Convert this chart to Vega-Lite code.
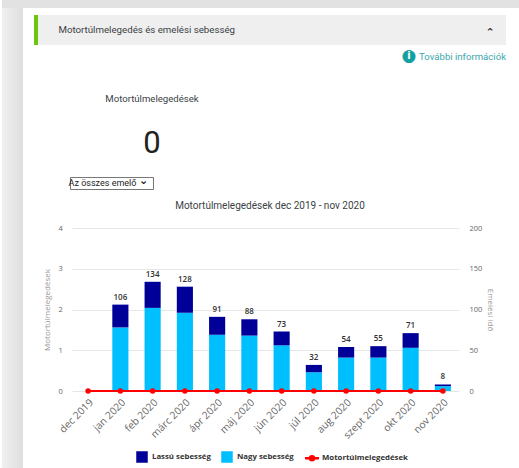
{
"$schema":"https://vega.github.io/schema/vega-lite/v6.json",
"padding":{"left":2,"top":0,"right":0,"bottom":0},
"background":"white",
"bounds":"flat",
"spacing":0,
"config":{"view":{"stroke":null},"concat":{"spacing":0},"font":"Open Sans","style":{"text":{"font":"Open Sans"}}},
"vconcat":[
{"width":517,"height":8,"view":{"fill":"#e2e2e2"},"data":{"values":[]},"mark":"text"},
{"bounds":"flat","spacing":0,"hconcat":[
 {"width":21,"height":460,"view":{"fill":{"gradient":"linear","x1":0,"x2":1,"y1":0,"y2":0,"stops":[{"offset":0,"color":"#f0f0f0"},{"offset":1,"color":"#dedede"}]}},"data":{"values":[]},"mark":"text"},
 {"bounds":"flat","spacing":0,"vconcat":[
  {"width":496,"height":7,"data":{"values":[]},"mark":"text"},
  {"bounds":"flat","spacing":0,"hconcat":[
   {"width":11,"height":30,"data":{"values":[]},"mark":"text"},
   {"width":4,"height":30,"view":{"fill":"#6cc70a"},"data":{"values":[]},"mark":"text"},
   {"width":468,"height":30,"view":{"fill":"#efefef"},"data":{"values":[{"label":"Motortúlmelegedés és emelési sebesség","chev":"⌃"}]},
    "layer":[
     {"mark":{"type":"text","align":"left","dx":-213.5,"fontSize":9.7,"fill":"#3a3f45","font":"Roboto"},"encoding":{"text":{"field":"label"}}},
     {"mark":{"type":"text","dx":218,"dy":3,"fontSize":11,"fontWeight":"bold","fill":"#333","font":"DejaVu Sans"},"encoding":{"text":{"field":"chev"}}}
    ]}
  ]},
  {"width":496,"height":129,"data":{"values":[{"info":"További információk","kpiTitle":"Motortúlmelegedések","kpi":0,"dot":"●","i":"i"}]},
   "layer":[
    {"mark":{"type":"text","align":"right","dx":235,"dy":-53,"fontSize":9.6,"fill":"#3ba7ad","font":"Roboto"},"encoding":{"text":{"field":"info"}}},
    {"mark":{"type":"text","dx":138,"dy":-54,"fontSize":17,"fill":"#12a0a0","font":"DejaVu Sans"},"encoding":{"text":{"field":"dot"}}},
    {"mark":{"type":"text","dx":138,"dy":-54,"fontSize":10,"fontWeight":"bold","fill":"white","font":"DejaVu Sans"},"encoding":{"text":{"field":"i"}}},
    {"mark":{"type":"text","dx":-119,"dy":-10.5,"fontSize":9.6,"fill":"#3a3f45","font":"Roboto"},"encoding":{"text":{"field":"kpiTitle"}}},
    {"mark":{"type":"text","dx":-119,"dy":34,"fontSize":31,"fill":"#222","font":"Roboto"},"encoding":{"text":{"field":"kpi"}}}
   ]},
  {"bounds":"flat","spacing":0,"hconcat":[
   {"width":45,"height":12,"data":{"values":[]},"mark":"text"},
   {"width":83,"height":12,"view":{"stroke":"#777","fill":"white"},"data":{"values":[{"sel":"Az összes emelő","chev":"⌄"}]},
    "layer":[
     {"mark":{"type":"text","dx":-9,"fontSize":9,"fill":"#222","font":"Roboto"},"encoding":{"text":{"field":"sel"}}},
     {"mark":{"type":"text","dx":32,"dy":-2,"fontSize":11,"fontWeight":"bold","fill":"#222","font":"DejaVu Sans"},"encoding":{"text":{"field":"chev"}}}
    ]}
  ]},
  {"width":496,"height":11,"data":{"values":[]},"mark":"text"},
  {"bounds":"flat","spacing":0,"hconcat":[
   {"width":20,"height":163,"data":{"values":[]},"mark":"text"},
   {"width":387,"height":163,
    "title":{"text":"Motortúlmelegedések dec 2019 - nov 2020","fontSize":10,"fontWeight":"normal","color":"#3a3f45","font":"Roboto","dx":4.5,"offset":13},
    "resolve":{"scale":{"y":"independent"},"axis":{"y":"independent"}},
    "encoding":{"x":{"field":"month","type":"nominal","title":null,
      "scale":{"domain":["dec 2019","jan 2020","feb 2020","márc 2020","ápr 2020","máj 2020","jún 2020","júl 2020","aug 2020","szept 2020","okt 2020","nov 2020"],"paddingInner":0.5,"paddingOuter":0.25},
      "axis":{"labelAngle":-45,"labelAlign":"right","labelBaseline":"top","labelFontSize":10.2,"labelColor":"#666","ticks":false,"domain":false,"labelPadding":6,"grid":false}}},
    "layer":[
     {"data":{"values":[
      {"month":"dec 2019","speed":"Nagy sebesség","hours":0},{"month":"dec 2019","speed":"Lassú sebesség","hours":0},
      {"month":"jan 2020","speed":"Nagy sebesség","hours":78},{"month":"jan 2020","speed":"Lassú sebesség","hours":28},
      {"month":"feb 2020","speed":"Nagy sebesség","hours":102},{"month":"feb 2020","speed":"Lassú sebesség","hours":32},
      {"month":"márc 2020","speed":"Nagy sebesség","hours":96},{"month":"márc 2020","speed":"Lassú sebesség","hours":32},
      {"month":"ápr 2020","speed":"Nagy sebesség","hours":69},{"month":"ápr 2020","speed":"Lassú sebesség","hours":22},
      {"month":"máj 2020","speed":"Nagy sebesség","hours":68},{"month":"máj 2020","speed":"Lassú sebesség","hours":20},
      {"month":"jún 2020","speed":"Nagy sebesség","hours":56},{"month":"jún 2020","speed":"Lassú sebesség","hours":17},
      {"month":"júl 2020","speed":"Nagy sebesség","hours":23},{"month":"júl 2020","speed":"Lassú sebesség","hours":9},
      {"month":"aug 2020","speed":"Nagy sebesség","hours":41},{"month":"aug 2020","speed":"Lassú sebesség","hours":13},
      {"month":"szept 2020","speed":"Nagy sebesség","hours":41},{"month":"szept 2020","speed":"Lassú sebesség","hours":14},
      {"month":"okt 2020","speed":"Nagy sebesség","hours":53},{"month":"okt 2020","speed":"Lassú sebesség","hours":18},
      {"month":"nov 2020","speed":"Nagy sebesség","hours":6},{"month":"nov 2020","speed":"Lassú sebesség","hours":2}
     ]},
     "layer":[
      {"mark":{"type":"bar"},
       "encoding":{
        "y":{"field":"hours","type":"quantitative","stack":"zero","scale":{"domain":[0,200]},"title":"Emelési idő",
         "axis":{"orient":"right","values":[0,50,100,150,200],"grid":false,"ticks":false,"domain":false,"labelFontSize":7.5,"labelColor":"#666","labelPadding":10,"titleFontSize":8,"titleFontWeight":"normal","titleColor":"#999","titleAngle":90,"titlePadding":3.5}},
        "order":{"field":"speed","sort":"descending"},
        "color":{"field":"speed","type":"nominal","scale":{"domain":["Lassú sebesség","Nagy sebesség","Motortúlmelegedések"],"range":["#000099","#00bfff","#ff0000"]},
         "legend":{"title":null,"orient":"none","direction":"horizontal","legendX":134,"legendY":451,"columns":3,"labelFontSize":7.8,"labelFontWeight":"bold","labelColor":"#333","columnPadding":8,"symbolSize":100,"symbolOffset":0,
          "encode":{"symbols":{"update":{"shape":{"signal":"datum.value==='Motortúlmelegedések' ? 'M-1.25,-0.12H1.25V0.12H-1.25Z M0.5,0A0.5,0.5 0 1 1 -0.5,0A0.5,0.5 0 1 1 0.5,0Z' : 'square'"},"fill":{"signal":"datum.value==='Lassú sebesség' ? '#000099' : datum.value==='Nagy sebesség' ? '#00bfff' : '#ff0000'"},"stroke":{"value":"transparent"},"opacity":{"value":1}}}}}}}},
      {"transform":[{"aggregate":[{"op":"sum","field":"hours","as":"total"}],"groupby":["month"]},{"filter":"datum.total>0"}],
       "mark":{"type":"text","dy":-7,"fontSize":8,"fontWeight":600,"fill":"#333"},
       "encoding":{"y":{"field":"total","type":"quantitative","title":"Emelési idő"},"text":{"field":"total","type":"quantitative"}}}
     ]},
     {"data":{"values":[
      {"month":"dec 2019","overheats":0,"series":"Motortúlmelegedések"},{"month":"jan 2020","overheats":0,"series":"Motortúlmelegedések"},{"month":"feb 2020","overheats":0,"series":"Motortúlmelegedések"},{"month":"márc 2020","overheats":0,"series":"Motortúlmelegedések"},{"month":"ápr 2020","overheats":0,"series":"Motortúlmelegedések"},{"month":"máj 2020","overheats":0,"series":"Motortúlmelegedések"},{"month":"jún 2020","overheats":0,"series":"Motortúlmelegedések"},{"month":"júl 2020","overheats":0,"series":"Motortúlmelegedések"},{"month":"aug 2020","overheats":0,"series":"Motortúlmelegedések"},{"month":"szept 2020","overheats":0,"series":"Motortúlmelegedések"},{"month":"okt 2020","overheats":0,"series":"Motortúlmelegedések"},{"month":"nov 2020","overheats":0,"series":"Motortúlmelegedések"}
     ]},
     "encoding":{"y":{"field":"overheats","type":"quantitative","scale":{"domain":[0,4]},"title":"Motortúlmelegedések",
       "axis":{"orient":"left","values":[0,1,2,3,4],"grid":true,"gridColor":"#e6e6e6","gridWidth":1,"ticks":false,"domain":false,"labelFontSize":7.5,"labelColor":"#666","labelPadding":9.8,"titleFontSize":8,"titleFontWeight":"normal","titleColor":"#999","titlePadding":6}},
      "color":{"field":"series","type":"nominal"}},
     "layer":[
      {"mark":{"type":"line","strokeWidth":2}},
      {"mark":{"type":"point","filled":true,"size":30,"opacity":1}}
     ]}
    ]}
  ]}
 ]}
]}
]}
